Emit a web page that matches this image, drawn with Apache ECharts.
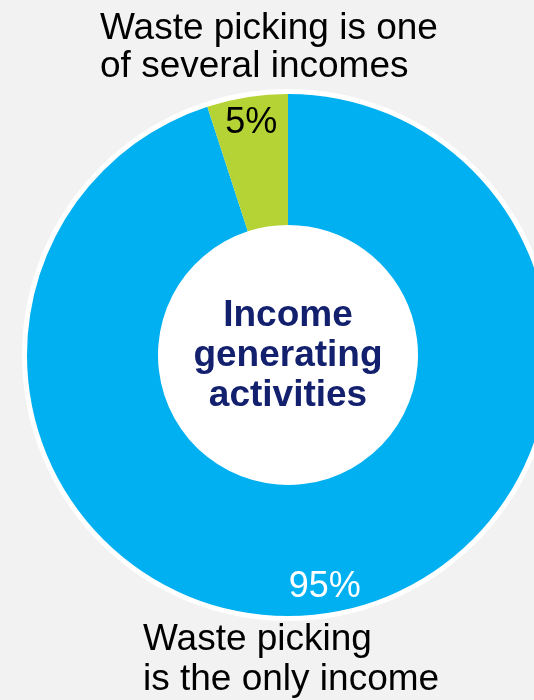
<!DOCTYPE html>
<html>
<head>
<meta charset="utf-8">
<script src="https://cdn.jsdelivr.net/npm/echarts@6/dist/echarts.min.js"></script>
<style>
  html, body { margin: 0; padding: 0; background: #f2f2f2; }
  #chart { width: 534px; height: 700px; }
</style>
</head>
<body>
<div id="chart"></div>
<script>
// Share of waste pickers by income situation (percent)
const categories = [
  'Waste picking\nis the only income',
  'Waste picking is one\nof several incomes'
];
const shares = [95, 5];
const sliceColors = ['#00b0f0', '#b5d335'];
const valueLabelColors = ['#ffffff', '#000000'];
const centerTitle = ['Income', 'generating', 'activities'];

const cx = 288, cy = 355;
const innerR = 130, outerR = 261;

const chart = echarts.init(document.getElementById('chart'), null, { renderer: 'canvas' });

const font = '37px "Liberation Sans", Arial, sans-serif';
const boldFont = 'bold 37px "Liberation Sans", Arial, sans-serif';

function lineTexts(text, x, yStart, step, fontStr, color) {
  return text.split('\n').map((t, i) => ({
    type: 'text',
    z: 10,
    style: {
      text: t, x: x, y: yStart + i * step,
      font: fontStr, fill: color,
      textAlign: 'left', textVerticalAlign: 'middle'
    }
  }));
}

const graphics = [
  // white rim behind the ring
  { type: 'circle', z: -1, shape: { cx: cx, cy: cy, r: outerR + 5 }, style: { fill: '#ffffff' } },
  // white hole in the middle
  { type: 'circle', z: -1, shape: { cx: cx, cy: cy, r: innerR }, style: { fill: '#ffffff' } }
];

centerTitle.forEach((t, i) => {
  graphics.push({
    type: 'text', z: 10,
    style: {
      text: t, x: cx, y: 316 + i * 40,
      font: boldFont, fill: '#12206e',
      textAlign: 'center', textVerticalAlign: 'middle'
    }
  });
});

// category names: top one above the ring, bottom one below it
graphics.push(...lineTexts(categories[1], 100, 29, 38, font, '#000000'));
graphics.push(...lineTexts(categories[0], 143, 640, 40, font, '#000000'));

const sliceData = categories.map((name, i) => ({
  name: name, value: shares[i], itemStyle: { color: sliceColors[i] }
}));

const labelData = categories.map((name, i) => ({
  name: name, value: shares[i],
  label: { color: valueLabelColors[i] }
}));

chart.setOption({
  backgroundColor: '#f2f2f2',
  animation: false,
  graphic: graphics,
  series: [
    {
      type: 'pie',
      center: [cx, cy],
      radius: [innerR, outerR],
      startAngle: 90,
      clockwise: true,
      silent: true,
      label: { show: false },
      labelLine: { show: false },
      data: sliceData
    },
    {
      // transparent copy that only carries the percentage labels
      type: 'pie',
      center: [cx, cy],
      radius: [203, outerR],
      startAngle: 90,
      clockwise: true,
      silent: true,
      itemStyle: { color: 'rgba(0,0,0,0)' },
      label: {
        show: true,
        position: 'inside',
        formatter: '{c}%',
        fontFamily: '"Liberation Sans", Arial, sans-serif',
        fontSize: 36
      },
      labelLine: { show: false },
      data: labelData
    }
  ]
});
</script>
</body>
</html>
